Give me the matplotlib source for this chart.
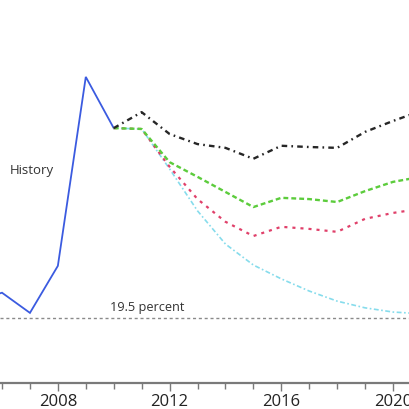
import matplotlib
matplotlib.use("Agg")
import matplotlib.pyplot as plt

plt.rcParams['font.family'] = ['Open Sans', 'DejaVu Sans']
plt.rcParams['lines.scale_dashes'] = False

# Data (percent)
hist_years = [2005, 2006, 2007, 2008, 2009, 2010]
hist_vals = [19.9, 20.1, 19.62, 20.74, 25.24, 24.02]

proj_years = [2010, 2011, 2012, 2013, 2014, 2015, 2016, 2017, 2018, 2019, 2020, 2021]
black_vals = [24.02, 24.40, 23.88, 23.64, 23.55, 23.29, 23.60, 23.57, 23.55, 23.93, 24.19, 24.43]
green_vals = [24.02, 24.00, 23.21, 22.86, 22.50, 22.14, 22.36, 22.33, 22.26, 22.52, 22.74, 22.86]
red_vals = [24.02, 24.00, 23.10, 22.33, 21.79, 21.45, 21.67, 21.62, 21.55, 21.86, 22.00, 22.10]
cyan_vals = [24.02, 24.00, 23.05, 22.05, 21.26, 20.76, 20.43, 20.14, 19.90, 19.74, 19.64, 19.60]

ref_level = 19.5
major_ticks = [2008, 2012, 2016, 2020]
minor_ticks = list(range(2006, 2021))

fig = plt.figure(figsize=(4.1, 4.1), dpi=100)
ax = fig.add_axes([0, 0.0634, 1, 0.9366])

ax.axhline(ref_level, color='#8a8a8a', lw=1.0, dashes=(2.2, 2.0))
ax.plot(hist_years, hist_vals, color='#3b5be0', lw=1.3, solid_joinstyle='miter')
ax.plot(proj_years, cyan_vals, color='#86dcec', lw=1.2, dashes=(3.5, 1.8, 1.2, 1.8))
ax.plot(proj_years, red_vals, color='#e0406a', lw=1.6, dashes=(2.2, 3.6))
ax.plot(proj_years, green_vals, color='#5ccc3c', lw=1.7, dashes=(3.5, 2.2))
ax.plot(proj_years, black_vals, color='#262626', lw=1.7, dashes=(4.0, 3.0, 1.2, 3.0))

ax.text(2006.27, 23.03, 'History', fontsize=9.5, color='#333333', va='center', ha='left')
ax.text(2009.85, 19.77, '19.5 percent', fontsize=9.2, color='#333333', va='center', ha='left')

ax.set_xlim(2005.928, 2020.609)
ax.set_ylim(17.95, 27.095)

for s in ['top', 'right', 'left']:
    ax.spines[s].set_visible(False)
ax.spines['bottom'].set_color('#7a7a7a')
ax.spines['bottom'].set_linewidth(1.6)
ax.set_yticks([])
ax.set_xticks(major_ticks)
ax.set_xticks(minor_ticks, minor=True)
ax.tick_params(axis='x', which='major', length=6, width=1.0, color='#7a7a7a',
               labelsize=12, labelcolor='#222222', pad=1.5)
ax.tick_params(axis='x', which='minor', length=4, width=1.0, color='#7a7a7a')

fig.savefig('out.png', dpi=100)
